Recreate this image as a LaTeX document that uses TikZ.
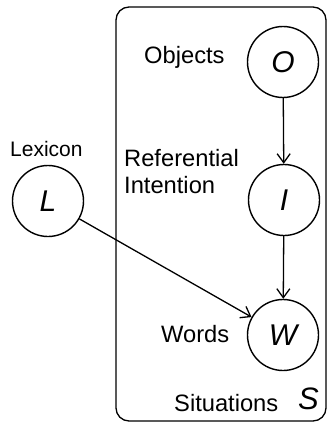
\documentclass[tikz,border=0pt]{standalone}
\usepackage{fontspec}
\setmainfont{Liberation Sans}
\usetikzlibrary{arrows.meta}
\begin{document}
\begin{tikzpicture}[x=1pt,y=-1pt,
  var/.style={draw,circle,line width=1.4pt,minimum size=71pt,inner sep=0pt,font=\fontsize{30}{32}\selectfont\itshape},
  lbl/.style={anchor=base west,inner sep=0pt,font=\fontsize{23.7}{28}\selectfont},
  edge/.style={line width=1.3pt,-{Straight Barb[length=9pt,width=13pt,line width=1.3pt]}}]
\useasboundingbox (0,0) rectangle (328,423);
\draw[line width=1.3pt,rounded corners=13pt] (116,7) rectangle (326,421);
\node[var] (O) at (283,62) {O};
\node[var] (I) at (284,200) {I};
\node[var] (W) at (283,335) {W};
\node[var] (L) at (48,201) {L};
\node[lbl] (tO) at (144,63) {Objects};
\node[lbl,font=\fontsize{21}{24}\selectfont] (tL) at (10,156) {Lexicon};
\node[lbl] (tR) at (124,166) {Referential};
\node[lbl] (tI) at (124,193) {Intention};
\node[lbl] (tW) at (161,342) {Words};
\node[lbl] (tS) at (174,411) {Situations};
\node[lbl,font=\fontsize{31}{33}\selectfont\itshape] (S) at (298,409) {S};
\draw[edge] (O) -- (I);
\draw[edge] (I) -- (W);
\draw[edge] (L) -- (W);
\end{tikzpicture}
\end{document}
